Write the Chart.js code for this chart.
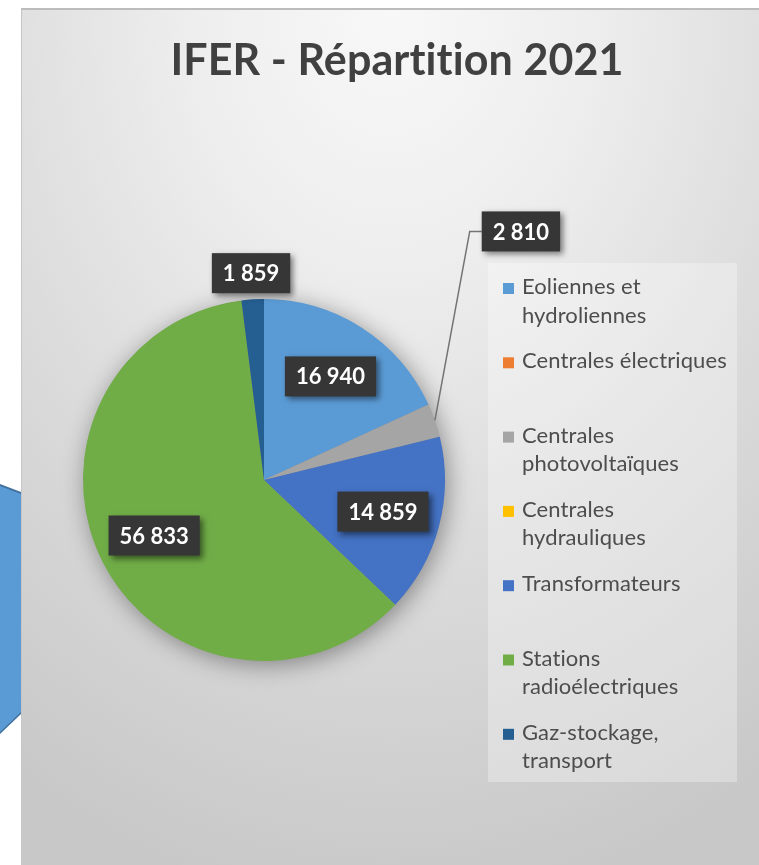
<!DOCTYPE html>
<html lang="fr">
<head>
<meta charset="utf-8">
<title>IFER - Répartition 2021</title>
<script src="https://cdn.jsdelivr.net/npm/chart.js@4.4.0/dist/chart.umd.min.js"></script>
<style>
  html, body { margin: 0; padding: 0; background: #fff; }
  #stage { position: relative; width: 759px; height: 865px; overflow: hidden; }
  .shape { position: absolute; left: 0; top: 0; width: 21px; height: 865px; }
  .shape.edge { background: #41719c; clip-path: polygon(0 484px, 21px 492px, 21px 714px, 0 734px); }
  .shape.fill { background: #5b9bd5; clip-path: polygon(0 486px, 21px 494px, 21px 712px, 0 732px); }
  #frame {
    position: absolute; left: 21px; top: 8px; right: 0; bottom: 0;
    border-top: 2px solid #bcbcbc; border-left: 1px solid #c6c6c6;
    background: radial-gradient(ellipse 95% 105% at 50% 0%, #f8f8f8 0%, #eeeeee 28%, #dcdcdc 60%, #c8c8c8 100%);
  }
  #chart { position: absolute; left: 0; top: 0; }
</style>
</head>
<body>
<div id="stage">
  <div class="shape edge"></div>
  <div class="shape fill"></div>
  <div id="frame"></div>
  <canvas id="chart" width="759" height="865"></canvas>
</div>
<script>
// données
const titleText = 'IFER - Répartition 2021';
const categories = [
    ['Eoliennes et', 'hydroliennes'],
    ['Centrales électriques'],
    ['Centrales', 'photovoltaïques'],
    ['Centrales', 'hydrauliques'],
    ['Transformateurs'],
    ['Stations', 'radioélectriques'],
    ['Gaz-stockage,', 'transport']
];
const values = [16940, 0, 2810, 0, 14859, 56833, 1859];
const colors = ['#5B9BD5', '#ED7D31', '#A5A5A5', '#FFC000', '#4472C4', '#70AD47', '#255E91'];

// placement des étiquettes (r = fraction du rayon, callout = décalage depuis le bord)
const labelPlacement = [
    { r: 0.68 },
    null,
    { callout: [86, -189] },
    null,
    { r: 0.68 },
    { r: 0.68 },
    { r: 1.145 }
];

const fmt = v => String(v).replace(/\B(?=(\d{3})+(?!\d))/g, ' ');

// ombre portée sous le camembert
const pieShadow = {
    id: 'pieShadow',
    beforeDatasetsDraw(chart) {
        const arc = chart.getDatasetMeta(0).data[0];
        if (!arc) return;
        const ctx = chart.ctx;
        ctx.save();
        ctx.shadowColor = 'rgba(0,0,0,0.4)';
        ctx.shadowBlur = 24;
        ctx.shadowOffsetX = 3;
        ctx.shadowOffsetY = 4;
        ctx.fillStyle = '#8a8a8a';
        ctx.beginPath();
        ctx.arc(arc.x, arc.y, arc.outerRadius - 0.5, 0, Math.PI * 2);
        ctx.fill();
        ctx.restore();
    }
};

const titlePlugin = {
    id: 'excelTitle',
    afterDraw(chart) {
        const ctx = chart.ctx;
        ctx.save();
        ctx.font = 'bold 43px Lato';
        ctx.letterSpacing = '0.1px'; // pas de ligature "ti"
        ctx.fillStyle = '#404040';
        ctx.textAlign = 'center';
        ctx.textBaseline = 'alphabetic';
        ctx.fillText(titleText, 397, 75);
        ctx.restore();
    }
};

// légende à droite, une case de deux lignes par catégorie
const sideLegend = {
    id: 'sideLegend',
    afterDraw(chart) {
        const ctx = chart.ctx;
        const ds = chart.data.datasets[0];
        ctx.save();
        ctx.fillStyle = 'rgba(255,255,255,0.3)';
        ctx.fillRect(488, 263, 249, 519);
        ctx.font = '22px Lato';
        ctx.letterSpacing = '0.1px';
        ctx.textAlign = 'left';
        ctx.textBaseline = 'alphabetic';
        chart.data.labels.forEach((lines, i) => {
            const base = 294 + i * 74.3;
            ctx.fillStyle = ds.backgroundColor[i];
            ctx.fillRect(503, base - 11, 11, 11);
            ctx.fillStyle = '#4d4d4d';
            lines.forEach((t, k) => ctx.fillText(t, 522, base + k * 28.5));
        });
        ctx.restore();
    }
};

const valueLabels = {
    id: 'valueLabels',
    afterDatasetsDraw(chart) {
        const ctx = chart.ctx;
        const meta = chart.getDatasetMeta(0);
        const data = chart.data.datasets[0].data;
        ctx.save();
        ctx.font = 'bold 22px Lato';
        meta.data.forEach((arc, i) => {
            const place = labelPlacement[i];
            if (!place || !data[i]) return;
            const mid = (arc.startAngle + arc.endAngle) / 2;
            const text = fmt(data[i]);
            const w = ctx.measureText(text).width + 22;
            const h = 40;
            let cx, cy;
            if (place.callout) {
                const ax = arc.x + Math.cos(mid) * arc.outerRadius;
                const ay = arc.y + Math.sin(mid) * arc.outerRadius;
                cx = ax + place.callout[0];
                cy = ay + place.callout[1];
                const left = cx - w / 2;
                ctx.strokeStyle = '#737373';
                ctx.lineWidth = 1.5;
                ctx.beginPath();
                ctx.moveTo(ax, ay);
                ctx.lineTo(left - 12, cy);
                ctx.lineTo(left, cy);
                ctx.stroke();
            } else {
                cx = arc.x + Math.cos(mid) * arc.outerRadius * place.r;
                cy = arc.y + Math.sin(mid) * arc.outerRadius * place.r;
            }
            ctx.save();
            ctx.shadowColor = 'rgba(0,0,0,0.5)';
            ctx.shadowBlur = 6;
            ctx.shadowOffsetX = 3;
            ctx.shadowOffsetY = 3;
            ctx.fillStyle = '#363636';
            ctx.fillRect(cx - w / 2, cy - h / 2, w, h);
            ctx.restore();
            ctx.fillStyle = '#ffffff';
            ctx.textAlign = 'center';
            ctx.textBaseline = 'middle';
            ctx.fillText(text, cx, cy + 1);
        });
        ctx.restore();
    }
};

function drawChart() {
    const ctx = document.getElementById('chart').getContext('2d');
    new Chart(ctx, {
        type: 'pie',
        data: {
            labels: categories,
            datasets: [{
                data: values,
                backgroundColor: colors,
                borderWidth: 0,
                hoverOffset: 0
            }]
        },
        options: {
            responsive: false,
            animation: false,
            events: [],
            layout: { padding: { left: 83, right: 314, top: 299, bottom: 204 } },
            plugins: {
                legend: { display: false },
                title: { display: false },
                tooltip: { enabled: false }
            }
        },
        plugins: [pieShadow, valueLabels, sideLegend, titlePlugin]
    });
}

Promise.all([
    document.fonts.load('bold 43px Lato'),
    document.fonts.load('bold 22px Lato'),
    document.fonts.load('22px Lato')
]).then(drawChart, drawChart);
</script>
</body>
</html>
